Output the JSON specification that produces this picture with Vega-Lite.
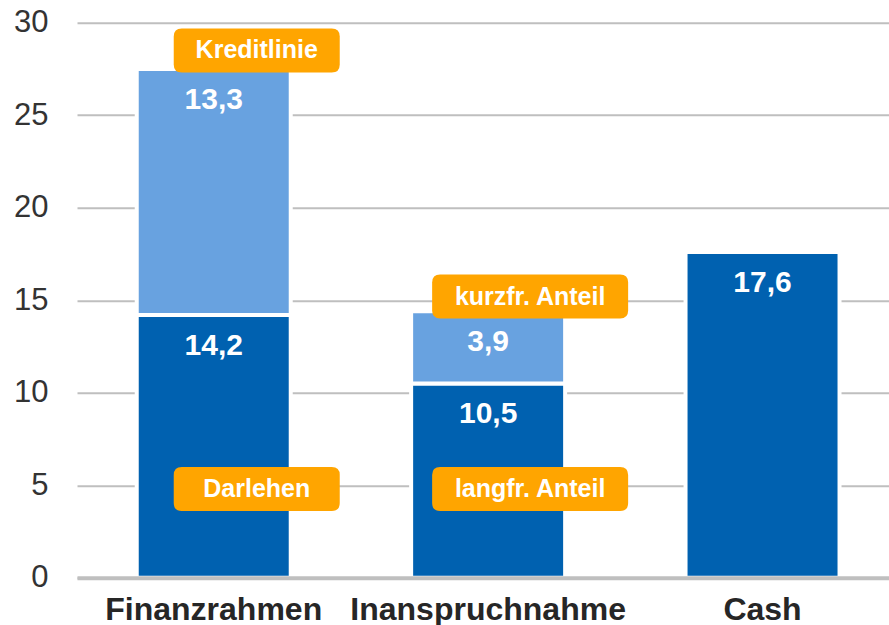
{
  "$schema": "https://vega.github.io/schema/vega-lite/v6.json",
  "width": 812,
  "height": 555,
  "autosize": {"type": "none"},
  "padding": {"left": 77, "top": 22.7, "right": 0, "bottom": 47.3},
  "config": {
    "view": {"stroke": null},
    "font": "Liberation Sans",
    "locale": {"number": {"decimal": ",", "thousands": ".", "grouping": [3], "currency": ["", " €"]}}
  },
  "datasets": {
    "bars": [
      {"cat": "Finanzrahmen", "teil": "Basis", "name": "Darlehen", "value": 14.2},
      {"cat": "Finanzrahmen", "teil": "Zusatz", "name": "Kreditlinie", "value": 13.3},
      {"cat": "Inanspruchnahme", "teil": "Basis", "name": "langfr. Anteil", "value": 10.5},
      {"cat": "Inanspruchnahme", "teil": "Zusatz", "name": "kurzfr. Anteil", "value": 3.9},
      {"cat": "Cash", "teil": "Basis", "name": "Cash", "value": 17.6}
    ],
    "notes": [
      {"cat": "Finanzrahmen", "label": "Kreditlinie", "pos": 28.5},
      {"cat": "Finanzrahmen", "label": "Darlehen", "pos": 4.8},
      {"cat": "Inanspruchnahme", "label": "kurzfr. Anteil", "pos": 15.2},
      {"cat": "Inanspruchnahme", "label": "langfr. Anteil", "pos": 4.8}
    ]
  },
  "layer": [
    {
      "data": {"name": "bars"},
      "transform": [
        {"stack": "value", "groupby": ["cat"], "sort": [{"field": "teil", "order": "ascending"}], "as": ["y0", "y1"]}
      ],
      "layer": [
        {
          "mark": {"type": "bar", "stroke": "white", "strokeWidth": 4},
          "encoding": {
            "x": {
              "field": "cat", "type": "nominal", "sort": ["Finanzrahmen", "Inanspruchnahme", "Cash"],
              "scale": {"paddingInner": 0.4388, "paddingOuter": 0.199, "align": 0.547},
              "axis": {
                "title": null, "labelAngle": 0, "labelFontSize": 32, "labelFontWeight": "bold",
                "labelColor": "#262626", "ticks": false, "tickSize": 0, "labelPadding": 42, "labelLimit": 400,
                "labelBaseline": "alphabetic", "domainColor": "#BFBFBF", "domainWidth": 4, "zindex": 1
              }
            },
            "y": {
              "field": "y1", "type": "quantitative", "scale": {"domain": [0, 30]},
              "axis": {
                "title": null, "values": [0, 5, 10, 15, 20, 25, 30], "grid": true, "gridColor": "#BFBFBF",
                "gridWidth": 2, "domain": false, "ticks": false, "tickSize": 0, "labelPadding": 29,
                "labelFontSize": 31, "labelColor": "#333333"
              }
            },
            "y2": {"field": "y0"},
            "color": {
              "field": "teil", "type": "nominal",
              "scale": {"domain": ["Basis", "Zusatz"], "range": ["#0061B0", "#68A2E0"]},
              "legend": null
            }
          }
        },
        {
          "mark": {"type": "text", "color": "white", "fontSize": 30, "fontWeight": "bold", "baseline": "middle", "dy": 31},
          "encoding": {
            "x": {"field": "cat", "type": "nominal", "sort": ["Finanzrahmen", "Inanspruchnahme", "Cash"]},
            "y": {"field": "y1", "type": "quantitative"},
            "text": {"field": "value", "type": "quantitative", "format": ".1f"}
          }
        }
      ]
    },
    {
      "data": {"name": "notes"},
      "transform": [{"filter": "datum.cat == 'Finanzrahmen'"}],
      "layer": [
        {
          "mark": {
            "type": "point", "filled": true, "color": "#FFA500", "opacity": 1, "strokeWidth": 0, "xOffset": 43, "size": 27556,
            "shape": "M -0.9036 -0.2651 L 0.9036 -0.2651 Q 1 -0.2651 1 -0.1687 L 1 0.1687 Q 1 0.2651 0.9036 0.2651 L -0.9036 0.2651 Q -1 0.2651 -1 0.1687 L -1 -0.1687 Q -1 -0.2651 -0.9036 -0.2651 Z"
          },
          "encoding": {
            "x": {"field": "cat", "type": "nominal", "sort": ["Finanzrahmen", "Inanspruchnahme", "Cash"]},
            "y": {"field": "pos", "type": "quantitative"}
          }
        },
        {
          "mark": {"type": "text", "color": "white", "fontSize": 25, "fontWeight": "bold", "baseline": "middle", "xOffset": 43},
          "encoding": {
            "x": {"field": "cat", "type": "nominal", "sort": ["Finanzrahmen", "Inanspruchnahme", "Cash"]},
            "y": {"field": "pos", "type": "quantitative"},
            "text": {"field": "label", "type": "nominal"}
          }
        }
      ]
    },
    {
      "data": {"name": "notes"},
      "transform": [{"filter": "datum.cat == 'Inanspruchnahme'"}],
      "layer": [
        {
          "mark": {
            "type": "point", "filled": true, "color": "#FFA500", "opacity": 1, "strokeWidth": 0, "xOffset": 42, "size": 38416,
            "shape": "M -0.9184 -0.2245 L 0.9184 -0.2245 Q 1 -0.2245 1 -0.1429 L 1 0.1429 Q 1 0.2245 0.9184 0.2245 L -0.9184 0.2245 Q -1 0.2245 -1 0.1429 L -1 -0.1429 Q -1 -0.2245 -0.9184 -0.2245 Z"
          },
          "encoding": {
            "x": {"field": "cat", "type": "nominal", "sort": ["Finanzrahmen", "Inanspruchnahme", "Cash"]},
            "y": {"field": "pos", "type": "quantitative"}
          }
        },
        {
          "mark": {"type": "text", "color": "white", "fontSize": 25, "fontWeight": "bold", "baseline": "middle", "xOffset": 42},
          "encoding": {
            "x": {"field": "cat", "type": "nominal", "sort": ["Finanzrahmen", "Inanspruchnahme", "Cash"]},
            "y": {"field": "pos", "type": "quantitative"},
            "text": {"field": "label", "type": "nominal"}
          }
        }
      ]
    }
  ]
}
